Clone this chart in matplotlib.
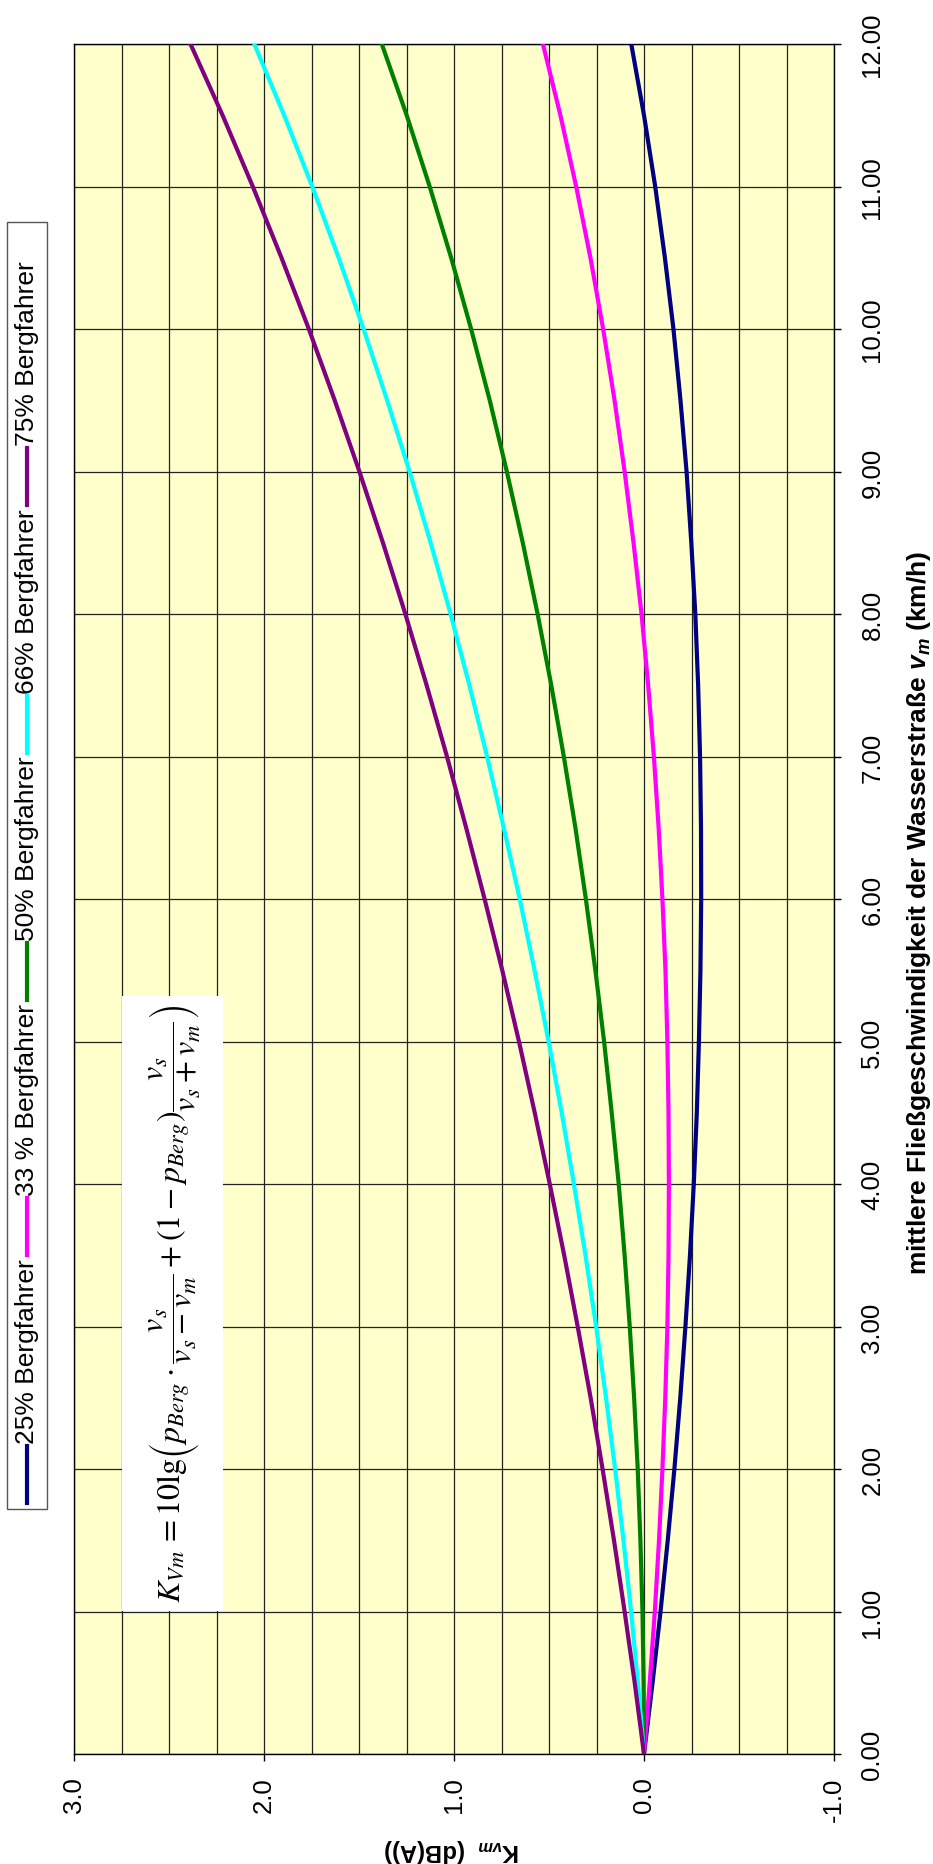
import matplotlib
matplotlib.use("Agg")
import matplotlib.pyplot as plt
from matplotlib.lines import Line2D
from matplotlib.patches import Rectangle
import numpy as np

plt.rcParams['font.family'] = ['Liberation Sans', 'DejaVu Sans']
plt.rcParams['mathtext.fontset'] = 'custom'
plt.rcParams['mathtext.rm'] = 'Liberation Sans:bold'
plt.rcParams['mathtext.it'] = 'Liberation Sans:italic:bold'
plt.rcParams['mathtext.bf'] = 'Liberation Sans:bold'

# mittlere Fliessgeschwindigkeit v_m (km/h)
vm = [0, 0.5, 1, 1.5, 2, 2.5, 3, 3.5, 4, 4.5, 5, 5.5, 6,
      6.5, 7, 7.5, 8, 8.5, 9, 9.5, 10, 10.5, 11, 11.5, 12]

# K_vm (dB(A))
k25 = [0, -0.045, -0.087, -0.125, -0.160, -0.191, -0.218, -0.242, -0.262, -0.278, -0.289, -0.297, -0.301,
       -0.300, -0.295, -0.285, -0.270, -0.249, -0.224, -0.192, -0.155, -0.110, -0.059, 0.000, 0.067]
k33 = [0, -0.030, -0.057, -0.079, -0.097, -0.112, -0.123, -0.129, -0.131, -0.129, -0.123, -0.113, -0.097,
       -0.077, -0.052, -0.022, 0.013, 0.055, 0.102, 0.155, 0.215, 0.282, 0.357, 0.440, 0.532]
k50 = [0, 0.002, 0.008, 0.019, 0.033, 0.052, 0.075, 0.102, 0.133, 0.170, 0.210, 0.256, 0.306,
       0.361, 0.422, 0.488, 0.560, 0.638, 0.722, 0.812, 0.910, 1.015, 1.128, 1.249, 1.380]
k66 = [0, 0.032, 0.068, 0.108, 0.152, 0.200, 0.252, 0.308, 0.369, 0.433, 0.502, 0.576, 0.654,
       0.738, 0.826, 0.919, 1.018, 1.123, 1.234, 1.352, 1.476, 1.607, 1.746, 1.894, 2.051]
k75 = [0, 0.049, 0.102, 0.158, 0.218, 0.281, 0.349, 0.420, 0.496, 0.575, 0.658, 0.746, 0.839,
       0.936, 1.037, 1.144, 1.256, 1.374, 1.498, 1.628, 1.764, 1.908, 2.059, 2.218, 2.387]

labels = ['25% Bergfahrer', '33 % Bergfahrer', '50% Bergfahrer', '66% Bergfahrer', '75% Bergfahrer']
colors = ['#000080', '#FF00FF', '#008000', '#00FFFF', '#800080']
series = [k25, k33, k50, k66, k75]

k_ticks = [3.0, 2.0, 1.0, 0.0, -1.0]
vm_ticks = [0, 1, 2, 3, 4, 5, 6, 7, 8, 9, 10, 11, 12]

W, H = 933, 1865


def fx(px):
    return px / W


def fy(py):
    return 1 - py / H


fig = plt.figure(figsize=(W / 100, H / 100), dpi=100)
fig.patch.set_facecolor('white')

# chart is turned by 90 degrees: K on the horizontal (reversed), v_m vertical
ax = fig.add_axes([fx(74), fy(1755), fx(834) - fx(74), fy(45) - fy(1755)])
ax.set_facecolor('#FFFFCC')

for k, c in zip(series, colors):
    ax.plot(k, vm, color=c, lw=3.0, solid_joinstyle='round', zorder=3)

ax.set_xlim(3, -1)
ax.set_ylim(0, 12)
ax.set_xticks(k_ticks)
ax.set_xticklabels(['%.1f' % t for t in k_ticks])
ax.set_xticks(np.arange(-1, 3.01, 0.25), minor=True)
ax.set_yticks(vm_ticks)
ax.set_yticklabels(['%.2f' % t for t in vm_ticks])
ax.yaxis.tick_right()

ax.grid(True, which='both', color='#222222', lw=0.9)
ax.set_axisbelow(True)
ax.tick_params(which='minor', length=0)
ax.tick_params(axis='x', which='major', direction='out', length=5, width=1, pad=11, labelsize=18.5)
ax.tick_params(axis='y', which='major', direction='out', length=5, width=1, pad=14, labelsize=18.5)
for t in ax.get_xticklabels():
    t.set_rotation(90)
for t in ax.get_yticklabels():
    t.set_rotation(90)
    t.set_va('center')
for s in ax.spines.values():
    s.set_linewidth(1.0)
    s.set_color('black')

# axis titles
fig.text(fx(919), fy(913), 'mittlere Fließgeschwindigkeit der Wasserstraße $v_m$ (km/h)',
         rotation=90, ha='center', va='center', fontsize=19, fontweight='bold',
         math_fontfamily='custom')
fig.text(fx(452), fy(1851), r'$\mathrm{K}_{vm}$  (dB(A))', rotation=180,
         ha='center', va='center', fontsize=17, fontweight='bold',
         math_fontfamily='custom')

renderer = fig.canvas.get_renderer()

# formula box
fig.patches.append(Rectangle((fx(122), fy(1612)), fx(223) - fx(122), fy(997) - fy(1612),
                             transform=fig.transFigure, facecolor='white', edgecolor='none', zorder=2))
formula = (r'$K_{Vm}\,=10\mathrm{lg}\left(p_{Berg}\cdot\dfrac{v_s}{v_s-v_m}'
           r'+(1-p_{Berg})\dfrac{v_s}{v_s+v_m}\right)$')
ft = fig.text(fx(174), fy(1304), formula, rotation=90, ha='center', va='center',
              rotation_mode='anchor', fontsize=24, math_fontfamily='stix', zorder=3)
flen = ft.get_window_extent(renderer).height
ft.set_fontsize(24 * 598 / flen)

# legend, drawn turned like the rest of the chart
fig.patches.append(Rectangle((fx(7), fy(1510)), fx(47) - fx(7), fy(223) - fy(1510),
                             transform=fig.transFigure, facecolor='white', edgecolor='#555555',
                             lw=1.0, zorder=2))
start = 1504
for lab, c in zip(labels, colors):
    fig.lines.append(Line2D([fx(27), fx(27)], [fy(start), fy(start - 57)],
                            transform=fig.transFigure, color=c, lw=3.0, zorder=3))
    t = fig.text(fx(27), fy(start - 60), lab, rotation=90, rotation_mode='anchor',
                 ha='left', va='center', fontsize=19, zorder=3)
    length = t.get_window_extent(renderer).height
    start = start - 60 - length - 3

fig.savefig('out.png', dpi=100)
